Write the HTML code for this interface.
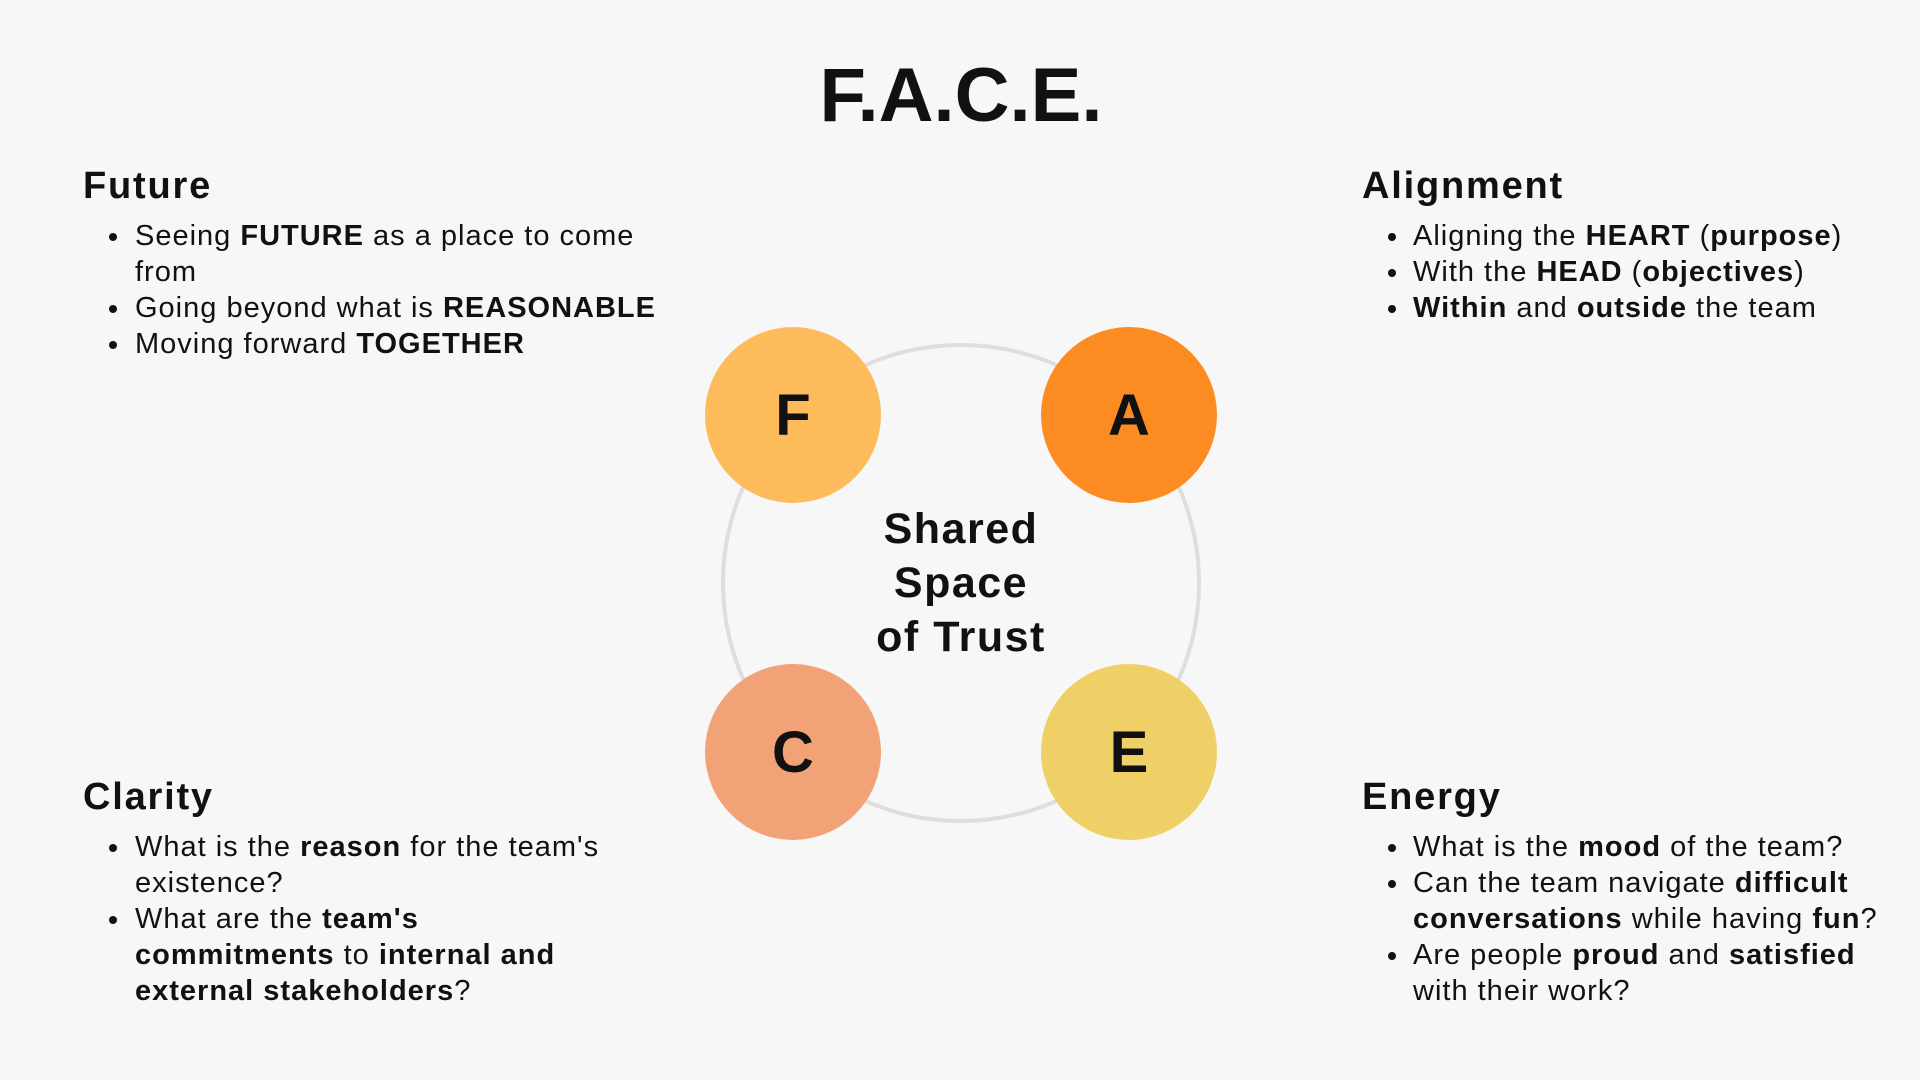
<!DOCTYPE html>
<html><head><meta charset="utf-8"><style>
html,body{margin:0;padding:0;}
body{width:1920px;height:1080px;background:#f7f7f7;position:relative;overflow:hidden;font-family:"Liberation Sans",sans-serif;color:#111;}
.t{position:absolute;white-space:nowrap;}
.h{font-size:38px;font-weight:bold;letter-spacing:1.8px;}
.l{font-size:29px;line-height:36px;letter-spacing:1px;}
.d{position:absolute;width:8px;height:8px;border-radius:50%;background:#111;}
b{font-weight:bold;}
.c{position:absolute;width:176px;height:176px;border-radius:50%;display:flex;align-items:center;justify-content:center;font-size:58px;font-weight:bold;color:#111;}
</style></head><body>
<div class="t" style="left:0;width:1922px;text-align:center;top:52px;font-size:76px;font-weight:bold;">F.A.C.E.</div>

<svg style="position:absolute;left:0;top:0" width="1920" height="1080"><circle cx="961" cy="583" r="238" fill="none" stroke="#dedede" stroke-width="4"/></svg>
<div class="c" style="left:705px;top:327px;background:#fdbb5c">F</div>
<div class="c" style="left:1041px;top:327px;background:#fc8c22">A</div>
<div class="c" style="left:705px;top:664px;background:#f1a276">C</div>
<div class="c" style="left:1041px;top:664px;background:#efd066">E</div>
<div class="t" style="left:761px;width:400px;text-align:center;top:502px;font-size:43px;line-height:54px;font-weight:bold;letter-spacing:1.5px;">Shared<br>Space<br>of Trust</div>

<!-- Future -->
<div class="t h" style="left:83px;top:165px">Future</div>
<div class="d" style="left:109px;top:233px"></div>
<div class="t l" style="left:135px;top:218px">Seeing <b>FUTURE</b> as a place to come</div>
<div class="t l" style="left:135px;top:254px">from</div>
<div class="d" style="left:109px;top:305px"></div>
<div class="t l" style="left:135px;top:290px">Going beyond what is <b>REASONABLE</b></div>
<div class="d" style="left:109px;top:341px"></div>
<div class="t l" style="left:135px;top:326px">Moving forward <b>TOGETHER</b></div>

<!-- Alignment -->
<div class="t h" style="left:1362px;top:165px">Alignment</div>
<div class="d" style="left:1388px;top:233px"></div>
<div class="t l" style="left:1413px;top:218px">Aligning the <b>HEART</b> (<b>purpose</b>)</div>
<div class="d" style="left:1388px;top:269px"></div>
<div class="t l" style="left:1413px;top:254px">With the <b>HEAD</b> (<b>objectives</b>)</div>
<div class="d" style="left:1388px;top:305px"></div>
<div class="t l" style="left:1413px;top:290px"><b>Within</b> and <b>outside</b> the team</div>

<!-- Clarity -->
<div class="t h" style="left:83px;top:776px">Clarity</div>
<div class="d" style="left:109px;top:844px"></div>
<div class="t l" style="left:135px;top:829px">What is the <b>reason</b> for the team's</div>
<div class="t l" style="left:135px;top:865px">existence?</div>
<div class="d" style="left:109px;top:916px"></div>
<div class="t l" style="left:135px;top:901px">What are the <b>team's</b></div>
<div class="t l" style="left:135px;top:937px"><b>commitments</b> to <b>internal and</b></div>
<div class="t l" style="left:135px;top:973px"><b>external stakeholders</b>?</div>

<!-- Energy -->
<div class="t h" style="left:1362px;top:776px">Energy</div>
<div class="d" style="left:1388px;top:844px"></div>
<div class="t l" style="left:1413px;top:829px">What is the <b>mood</b> of the team?</div>
<div class="d" style="left:1388px;top:880px"></div>
<div class="t l" style="left:1413px;top:865px">Can the team navigate <b>difficult</b></div>
<div class="t l" style="left:1413px;top:901px"><b>conversations</b> while having <b>fun</b>?</div>
<div class="d" style="left:1388px;top:952px"></div>
<div class="t l" style="left:1413px;top:937px">Are people <b>proud</b> and <b>satisfied</b></div>
<div class="t l" style="left:1413px;top:973px">with their work?</div>
</body></html>
